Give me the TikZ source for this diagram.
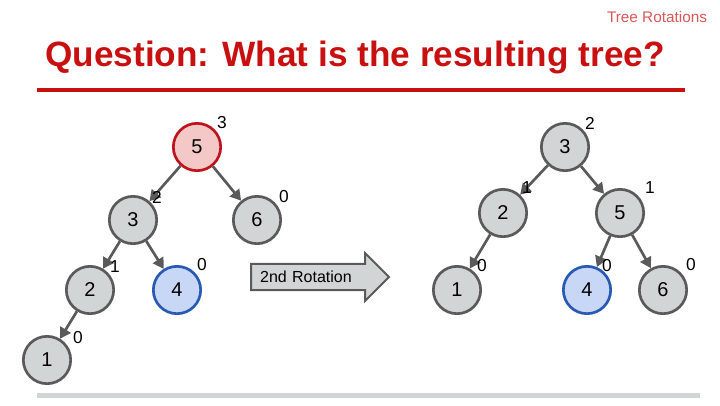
\documentclass[tikz,border=0pt]{standalone}
\usepackage{fontspec}
\setmainfont{Liberation Sans}
\usetikzlibrary{arrows.meta,shapes.arrows}
\definecolor{nodegray}{RGB}{210,213,214}
\definecolor{edgegray}{RGB}{90,90,90}
\definecolor{redfill}{RGB}{245,200,200}
\definecolor{redline}{RGB}{190,20,30}
\definecolor{bluefill}{RGB}{200,215,245}
\definecolor{blueline}{RGB}{40,90,180}
\definecolor{titlered}{RGB}{200,16,16}
\begin{document}
\begin{tikzpicture}[x=0.75pt,y=-0.75pt,
  tn/.style={circle,draw=edgegray,fill=nodegray,line width=2pt,minimum size=35.5pt,inner sep=0pt,font=\fontsize{15}{15}\selectfont},
  rn/.style={tn,draw=redline,fill=redfill},
  bn/.style={tn,draw=blueline,fill=bluefill},
  ht/.style={font=\fontsize{13}{13}\selectfont},
  ed/.style={draw=edgegray,line width=2pt,-{Triangle[length=8pt,width=9pt]}}]
\useasboundingbox (0,0) rectangle (720,405);
\node[text=titlered!70,font=\fontsize{11.5}{11.5}\selectfont] (hdr) at (657,17) {Tree Rotations};
\node[text=titlered,font=\bfseries\fontsize{26.4}{26.4}\selectfont] (title) at (355,57) {Question: What is the resulting tree?};
\draw[titlered,line width=2.5pt] (37,90) -- (685,90);
\fill[nodegray] (37,393) rectangle (700,398);
% left tree
\node[rn] (l5) at (197,147) {5};
\node[tn] (l3) at (133,220) {3};
\node[tn] (l6) at (257,220) {6};
\node[tn] (l2) at (90,290) {2};
\node[bn] (l4) at (177,290) {4};
\node[tn] (l1) at (47,360) {1};
\draw[ed] (l5) -- (l3); \draw[ed] (l5) -- (l6);
\draw[ed] (l3) -- (l2); \draw[ed] (l3) -- (l4);
\draw[ed] (l2) -- (l1);
\node[ht] (h1) at (222,123) {3};
\node[ht] (h2) at (157,197) {2};
\node[ht] (h3) at (284,197) {0};
\node[ht] (h4) at (115,267) {1};
\node[ht] (h5) at (202,265) {0};
\node[ht] (h6) at (78,338) {0};
% arrow
\node[single arrow,draw=edgegray,fill=nodegray,line width=1.5pt,minimum height=103.5pt,minimum width=36pt,single arrow head extend=6pt,inner sep=2pt,anchor=west,font=\fontsize{12}{12}\selectfont,text width=80pt] (arr) at (250,277) {2nd Rotation};
% right tree
\node[tn] (r3) at (565,147) {3};
\node[tn] (r2) at (503,213) {2};
\node[tn] (r5) at (620,213) {5};
\node[tn] (r1) at (457,290) {1};
\node[bn] (r4) at (587,290) {4};
\node[tn] (r6) at (663,290) {6};
\draw[ed] (r3) -- (r2); \draw[ed] (r3) -- (r5);
\draw[ed] (r2) -- (r1); \draw[ed] (r5) -- (r4); \draw[ed] (r5) -- (r6);
\node[ht] (g1) at (590,123) {2};
\node[ht] (g2) at (527,188) {1};
\node[ht] (g3) at (650,188) {1};
\node[ht] (g4) at (482,266) {0};
\node[ht] (g5) at (607,266) {0};
\node[ht] (g6) at (691,265) {0};
\end{tikzpicture}
\end{document}
